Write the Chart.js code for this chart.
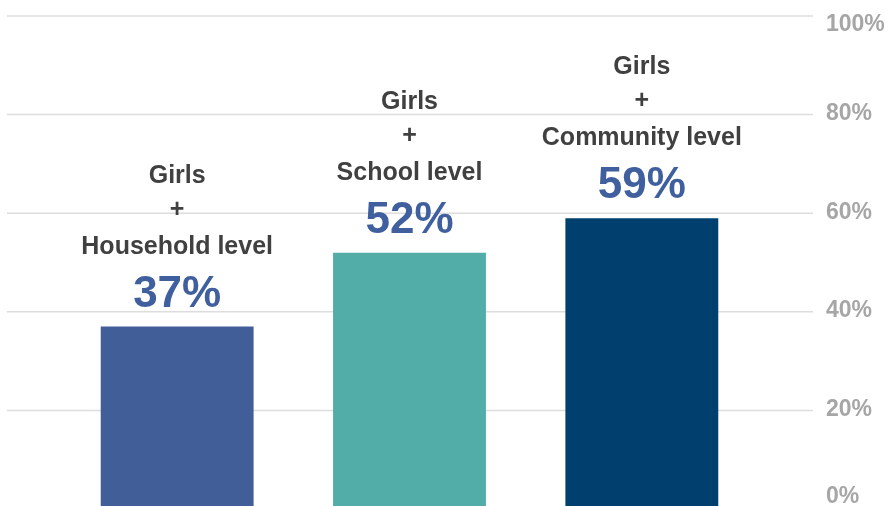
<!DOCTYPE html>
<html>
<head>
<meta charset="utf-8">
<script src="https://cdn.jsdelivr.net/npm/chart.js@4/dist/chart.umd.min.js"></script>
<style>
  html, body { margin: 0; padding: 0; background: #ffffff; overflow: hidden; }
  #wrap { width: 890px; height: 506px; overflow: hidden; position: relative; }
  canvas { display: block; }
</style>
</head>
<body>
<div id="wrap"><canvas id="c" width="890" height="512"></canvas></div>
<script>
// Share of girls reached, by level of intervention
const categories = [
  ["Girls", "+", "Household level"],
  ["Girls", "+", "School level"],
  ["Girls", "+", "Community level"]
];
const values = [37, 52, 59];
const barColors = ["#425e99", "#52ada9", "#003f6e"];
const tickValues = [0, 20, 40, 60, 80, 100];
const tickLabels = ["0%", "20%", "40%", "60%", "80%", "100%"];

const FONT = "'Liberation Sans', Arial, sans-serif";

// Horizontal guide lines spanning the full width, behind the bars
const gridPlugin = {
  id: 'wideGrid',
  beforeDatasetsDraw(chart) {
    const ctx = chart.ctx;
    const y = chart.scales.y;
    ctx.save();
    ctx.strokeStyle = '#dddddd';
    ctx.lineWidth = 1.5;
    tickValues.forEach(v => {
      const py = y.getPixelForValue(v);
      ctx.beginPath();
      ctx.moveTo(7, py);
      ctx.lineTo(813, py);
      ctx.stroke();
    });
    ctx.restore();
  }
};

// Right-hand percentage labels, kept inside the visible area
const tickPlugin = {
  id: 'rightTicks',
  afterDraw(chart) {
    const ctx = chart.ctx;
    const y = chart.scales.y;
    ctx.save();
    ctx.fillStyle = '#a6a6a6';
    ctx.font = "bold 23px " + FONT;
    ctx.textAlign = 'left';
    ctx.textBaseline = 'middle';
    tickValues.forEach((v, i) => {
      let py = y.getPixelForValue(v) - 1;
      py = Math.min(Math.max(py, 25), 497);
      ctx.fillText(tickLabels[i], 826, py);
    });
    ctx.restore();
  }
};

// Category captions and value labels stacked above each bar
const labelPlugin = {
  id: 'barLabels',
  afterDatasetsDraw(chart) {
    const ctx = chart.ctx;
    const meta = chart.getDatasetMeta(0);
    ctx.save();
    ctx.textAlign = 'center';
    ctx.textBaseline = 'alphabetic';
    meta.data.forEach((bar, i) => {
      const x = bar.x;
      const top = bar.y;
      ctx.fillStyle = '#404040';
      ctx.font = "bold 25px " + FONT;
      const lines = categories[i];
      ctx.fillText(lines[0], x, top - 144);
      ctx.fillText(lines[1], x, top - 110);
      ctx.fillText(lines[2], x, top - 73);
      ctx.fillStyle = '#3f5f9f';
      ctx.font = "bold 44px " + FONT;
      ctx.fillText(values[i] + '%', x, top - 20);
    });
    ctx.restore();
  }
};

new Chart(document.getElementById('c'), {
  type: 'bar',
  data: {
    labels: categories.map(c => c.join(' ')),
    datasets: [{
      data: values,
      backgroundColor: barColors,
      borderWidth: 0,
      barPercentage: 0.658,
      categoryPercentage: 1
    }]
  },
  options: {
    responsive: false,
    animation: false,
    devicePixelRatio: 1,
    layout: { padding: { left: 61, right: 132, top: 16, bottom: 3 } },
    plugins: { legend: { display: false }, tooltip: { enabled: false } },
    scales: {
      x: { display: false, offset: true },
      y: { display: false, min: 0, max: 100 }
    }
  },
  plugins: [gridPlugin, tickPlugin, labelPlugin]
});
</script>
</body>
</html>
